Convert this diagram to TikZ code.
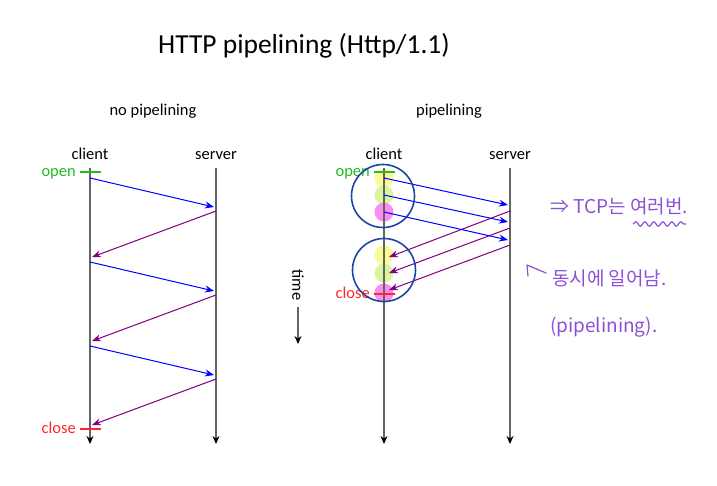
\documentclass[tikz,border=0pt]{standalone}
\usepackage{fontspec}
\setmainfont{Carlito}
\newfontfamily\krfont{Noto Sans CJK KR}
\usetikzlibrary{arrows.meta,decorations.pathmorphing}
\definecolor{reqblue}{RGB}{0,0,255}
\definecolor{resppurple}{RGB}{128,0,128}
\definecolor{axisgrey}{RGB}{100,100,100}
\definecolor{ringblue}{RGB}{30,70,160}
\definecolor{hand}{RGB}{140,80,215}
\definecolor{openg}{RGB}{30,190,30}
\definecolor{closer}{RGB}{255,40,40}
\definecolor{dotyellow}{RGB}{250,250,130}
\definecolor{dotgreen}{RGB}{210,245,140}
\definecolor{dotpink}{RGB}{250,120,240}
\begin{document}
\begin{tikzpicture}[x=1pt,y=-1pt,
  timeline/.style={draw=axisgrey,line width=1.6pt,-{Stealth[length=8pt,width=7pt,black]}},
  req/.style={draw=reqblue,line width=1pt,-{Stealth[length=9pt,width=7pt]}},
  resp/.style={draw=resppurple,line width=1pt,-{Stealth[length=9pt,width=7pt]}},
  lbl/.style={font=\fontsize{16.5}{18}\selectfont,inner sep=0pt,anchor=base},
  hw/.style={font=\krfont\fontsize{19}{22}\selectfont,text=hand,inner sep=0pt,anchor=west},
  ring/.style={draw=ringblue,line width=1.6pt},
  dot/.style={circle,minimum size=19pt,inner sep=0pt,draw=none}]
\useasboundingbox (0,0) rectangle (717,485);
% titles
\node[font=\fontsize{27.5}{32}\selectfont,inner sep=0pt,anchor=base] (title) at (304,53) {HTTP pipelining (Http/1.1)};
\node[lbl] (nopipe) at (153,115) {no pipelining};
\node[lbl] (pipe) at (449,115) {pipelining};
% ---------- left diagram
\node[lbl] (cl1) at (90,159) {client};
\node[lbl] (sv1) at (216,159) {server};
\coordinate (c1t) at (90,168); \coordinate (c1b) at (90,444);
\coordinate (s1t) at (216,168); \coordinate (s1b) at (216,444);
\draw[timeline] (c1t) -- (c1b);
\draw[timeline] (s1t) -- (s1b);
\coordinate (ot1a) at (80,172); \coordinate (ot1b) at (101,172);
\draw[openg,line width=1.5pt] (ot1a) -- (ot1b);
\node[lbl,text=openg,anchor=base east] (open1) at (76,176) {open};
\coordinate (ct1a) at (80,429); \coordinate (ct1b) at (101,429);
\draw[closer,line width=1.5pt] (ct1a) -- (ct1b);
\node[lbl,text=closer,anchor=base east] (close1) at (76,433) {close};
\foreach \i/\ya/\yb/\yc/\yd in {1/178/207/211/257, 2/262/291/295/341, 3/346/375/379/425}{
  \coordinate (lq\i s) at (90,\ya); \coordinate (lq\i e) at (214,\yb);
  \coordinate (lp\i s) at (216,\yc); \coordinate (lp\i e) at (92,\yd);
  \draw[req] (lq\i s) -- (lq\i e);
  \draw[resp] (lp\i s) -- (lp\i e);
}
% ---------- time arrow
\node[font=\fontsize{16.5}{18}\selectfont,rotate=-90,inner sep=0pt] (time) at (298,285) {time};
\coordinate (tA) at (298,307); \coordinate (tB) at (298,344);
\draw[timeline] (tA) -- (tB);
% ---------- right diagram
\node[lbl] (cl2) at (384,159) {client};
\node[lbl] (sv2) at (510,159) {server};
\node[dot,fill=dotyellow,opacity=0.85] (y1) at (384,178) {};
\node[dot,fill=dotgreen,opacity=0.85] (g1) at (384,195) {};
\node[dot,fill=dotpink,opacity=0.85] (p1) at (384,212) {};
\node[dot,fill=dotyellow,opacity=0.85] (y2) at (384,255) {};
\node[dot,fill=dotgreen,opacity=0.85] (g2) at (384,273) {};
\node[dot,fill=dotpink,opacity=0.85] (p2) at (384,293) {};
\coordinate (c2t) at (384,168); \coordinate (c2b) at (384,444);
\coordinate (s2t) at (510,168); \coordinate (s2b) at (510,444);
\draw[timeline] (c2t) -- (c2b);
\draw[timeline] (s2t) -- (s2b);
\coordinate (ot2a) at (374,172); \coordinate (ot2b) at (395,172);
\draw[openg,line width=1.5pt] (ot2a) -- (ot2b);
\node[lbl,text=openg,anchor=base east] (open2) at (370,176) {open};
\coordinate (ct2a) at (374,294); \coordinate (ct2b) at (395,294);
\draw[closer,line width=1.5pt] (ct2a) -- (ct2b);
\node[lbl,text=closer,anchor=base east] (close2) at (370,298) {close};
\foreach \i/\ya/\yb/\yc/\yd in {1/178/205/211/257, 2/195/222/228/273, 3/212/240/245/290}{
  \coordinate (rq\i s) at (384,\ya); \coordinate (rq\i e) at (508,\yb);
  \coordinate (rp\i s) at (510,\yc); \coordinate (rp\i e) at (389,\yd);
  \draw[req] (rq\i s) -- (rq\i e);
  \draw[resp] (rp\i s) -- (rp\i e);
}
\node[ring,circle,minimum size=63pt,inner sep=0pt] (ringA) at (383,196) {};
\node[ring,circle,minimum size=63pt,inner sep=0pt] (ringB) at (384,270) {};
% ---------- handwritten notes
\node[hw] (note1) at (550,206) {⇒ TCP는 여러번.};
\coordinate (wv1) at (633,224); \coordinate (wv2) at (686,224);
\draw[hand,line width=1.2pt,decorate,decoration={snake,amplitude=2.2pt,segment length=9pt}] (wv1) -- (wv2);
\coordinate (ha) at (546,273); \coordinate (hb) at (527,265); \coordinate (hc) at (528,276);
\draw[hand,line width=1.2pt,line cap=round,line join=round] (ha) -- (hb) -- (hc);
\node[hw] (note2) at (552,278) {동시에 일어남.};
\node[hw] (note3) at (550,327) {(pipelining).};
\end{tikzpicture}
\end{document}
